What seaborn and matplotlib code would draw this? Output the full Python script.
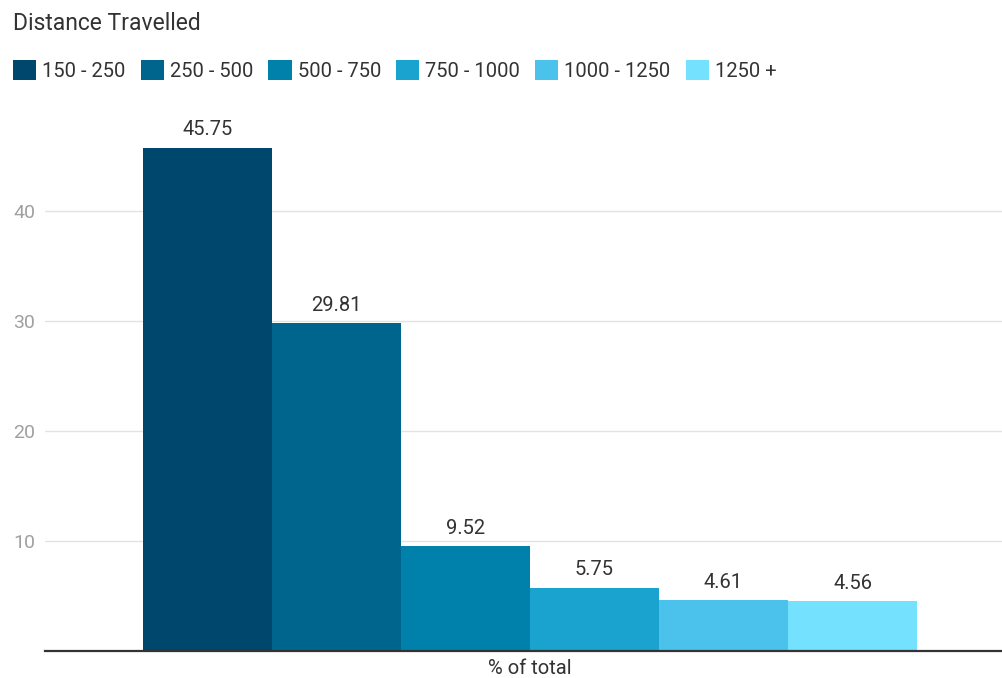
import matplotlib
matplotlib.use("Agg")
import matplotlib.pyplot as plt
import seaborn as sns
import pandas as pd
from matplotlib.patches import Patch

categories = ["150 - 250", "250 - 500", "500 - 750", "750 - 1000", "1000 - 1250", "1250 +"]
values = [45.75, 29.81, 9.52, 5.75, 4.61, 4.56]
group = ["% of total"] * len(categories)
colors = ["#00476D", "#00658C", "#0081AB", "#1BA3CF", "#4BC2EC", "#74E1FE"]
yticks = [10, 20, 30, 40]

df = pd.DataFrame({"group": group, "distance": categories, "value": values})

sns.set_theme(style="white")
plt.rcParams["font.family"] = ["Roboto", "DejaVu Sans"]

W, H = 1003, 678
fig = plt.figure(figsize=(W / 100, H / 100), dpi=100)
ax = fig.add_axes([45 / W, 1 - 651 / H, (W - 45) / W, 550 / H])

sns.barplot(data=df, x="group", y="value", hue="distance", hue_order=categories,
            palette=colors, width=0.808, saturation=1, linewidth=0, ax=ax, legend=False)

shift = 6 / 958
ax.set_xlim(-0.5 - shift, 0.5 - shift)
ax.set_ylim(0, 50)
ax.set_yticks(yticks)
ax.set_yticklabels([str(t) for t in yticks], color="#a0a0a0", fontsize=14)
ax.tick_params(axis="y", length=0, pad=7)
ax.tick_params(axis="x", length=0, pad=5.5, labelsize=14.5, labelcolor="#333333")
ax.set_xlabel("")
ax.set_ylabel("")
ax.grid(axis="y", color="#e3e3e3", linewidth=1)
ax.set_axisbelow(True)
for s in ["top", "right", "left"]:
    ax.spines[s].set_visible(False)
ax.spines["bottom"].set_color("#333333")
ax.spines["bottom"].set_linewidth(1.6)

for cont in ax.containers:
    ax.bar_label(cont, fmt="%.2f", padding=6, fontsize=14.5, color="#333333")

fig.text(13 / W, 1 - 23 / H, "Distance Travelled", fontsize=16.5, color="#333333",
         ha="left", va="center")

handles = [Patch(facecolor=c, edgecolor="none") for c in colors]
fig.legend(handles, categories, loc="center left", bbox_to_anchor=(13 / W, 1 - 70.5 / H),
           ncol=6, frameon=False, fontsize=14.5, handlelength=1.15, handleheight=1.15,
           handletextpad=0.3, columnspacing=0.75, borderpad=0, borderaxespad=0,
           labelcolor="#333333")

fig.savefig("out.png", dpi=100)
